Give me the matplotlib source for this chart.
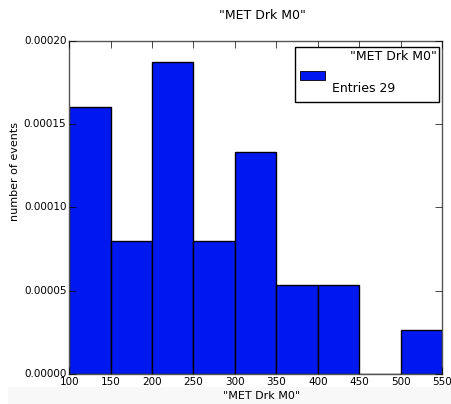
import numpy as np
import matplotlib
matplotlib.use('Agg')
from matplotlib import pyplot as plt
from matplotlib.patches import Rectangle

# bin edges and normalised heights
bin_edges = [100, 150, 200, 250, 300, 350, 400, 450, 500, 550]
heights = [0.000160, 0.0000800, 0.000187, 0.0000800, 0.000133,
           0.0000533, 0.0000533, 0.0, 0.0000267]
n_entries = 29
title = '"MET Drk M0"'
bar_color = '#0018f0'

plt.style.use('classic')

fig = plt.figure(figsize=(4.52, 4.04), dpi=100, facecolor='white')
# faint grey band at the bottom of the screenshot
fig.patches.append(Rectangle((0.018, 0), 0.982, 0.042, transform=fig.transFigure,
                             facecolor='#f8f8f8', edgecolor='none', zorder=-1))
ax = fig.add_axes([0.153, 0.074, 0.825, 0.825])

centers = np.array(bin_edges[:-1]) + 25
ax.hist(centers, bins=bin_edges, weights=heights, color=bar_color,
        edgecolor='black', linewidth=1.0)

ax.set_xlim(100, 550)
ax.set_ylim(0, 0.0002)
ax.set_xticks(bin_edges)
ax.set_yticks([0, 0.00005, 0.0001, 0.00015, 0.0002])
ax.set_yticklabels(['0.00000', '0.00005', '0.00010', '0.00015', '0.00020'])
ax.tick_params(labelsize=7.5, direction='in', top=True, right=True, length=5, pad=2)
for s in ax.spines.values():
    s.set_color('#555555')

ax.text(0.517, 1.075, title, transform=ax.transAxes, fontsize=9,
        ha='center', va='center')
ax.set_xlabel(title, fontsize=8)
ax.xaxis.set_label_coords(0.517, -0.051)
ax.set_ylabel('number of events', fontsize=8)
ax.yaxis.set_label_coords(-0.131, 0.607)

# ROOT style stats legend box
ax.add_patch(Rectangle((0.606, 0.817), 0.386, 0.165, transform=ax.transAxes,
                       facecolor='white', edgecolor='black', linewidth=1.0, zorder=5))
ax.add_patch(Rectangle((0.619, 0.883), 0.067, 0.027, transform=ax.transAxes,
                       facecolor=bar_color, edgecolor='black', linewidth=0.6, zorder=6))
ax.text(0.985, 0.952, title, transform=ax.transAxes, fontsize=9,
        ha='right', va='center', zorder=6)
ax.text(0.705, 0.856, 'Entries %d' % n_entries, transform=ax.transAxes, fontsize=9,
        ha='left', va='center', zorder=6)

plt.savefig('out.png', dpi=100, facecolor='white')
